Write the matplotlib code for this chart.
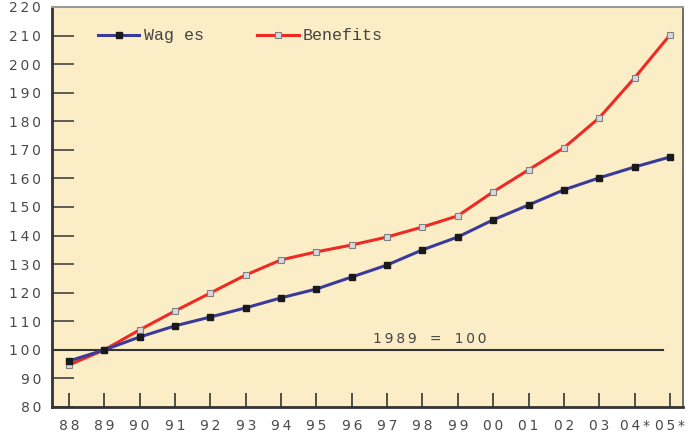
import matplotlib
matplotlib.use("Agg")
import matplotlib.pyplot as plt

years = ["88", "89", "90", "91", "92", "93", "94", "95", "96", "97", "98",
         "99", "00", "01", "02", "03", "04*", "05*"]
wages = [96.1, 100, 104.5, 108.4, 111.5, 114.7, 118.2, 121.3, 125.5, 129.7,
         135.0, 139.5, 145.5, 150.7, 156.0, 160.2, 164.0, 167.5]
benefits = [94.7, 100, 107.0, 113.6, 119.9, 126.2, 131.5, 134.3, 136.7, 139.5,
            143.0, 146.9, 155.3, 163.0, 170.7, 181.2, 195.2, 210.2]
yticks = list(range(80, 221, 10))

TS = "\u2009"


def spaced(s):
    return TS.join(s)


fig = plt.figure(figsize=(7, 4.34), dpi=100)
ax = fig.add_axes([52/700, 1-407/434, (683-52)/700, 400/434])
ax.set_facecolor("#FBEDC6")
x = list(range(len(years)))

ax.plot(x, wages, color="#3A3A9A", lw=2.2, marker="s", ms=5,
        mfc="#1a1a1a", mec="#1a1a1a", label="Wag es", zorder=4)
ax.plot(x, benefits, color="#EE2A24", lw=2.2, marker="s", ms=4.5,
        mfc="#D8D8E0", mec="#808080", mew=0.8, label="Benefits", zorder=3)

ax.plot([-0.48, 16.8], [100, 100], color="#333333", lw=1.5, zorder=2)
ax.text(8.6, 102.3, spaced("1989") + "   =   " + spaced("100"), fontsize=10,
        color="#444444", family="DejaVu Sans")

ax.set_xlim(-0.48, 17.37)
ax.set_ylim(80, 220)
ax.set_xticks(x)
ax.set_xticklabels([spaced(y) for y in years])
ax.set_yticks(yticks)
ax.set_yticklabels([spaced(str(v)) for v in yticks])
ax.tick_params(axis="y", direction="in", length=16, width=1.2, color="#444444",
               labelsize=10, labelcolor="#4a4a4a", pad=8)
ax.tick_params(axis="x", direction="in", length=10, width=1.2, color="#333333",
               labelsize=10, labelcolor="#4a4a4a", pad=9)
for lab in ax.get_xticklabels() + ax.get_yticklabels():
    lab.set_family("DejaVu Sans")

ax.spines["left"].set_color("#333333")
ax.spines["left"].set_linewidth(2)
ax.spines["bottom"].set_color("#333333")
ax.spines["bottom"].set_linewidth(2)
ax.spines["top"].set_color("#999999")
ax.spines["top"].set_linewidth(1.5)
ax.spines["right"].set_color("#555555")
ax.spines["right"].set_linewidth(1.2)

leg = ax.legend(loc="upper left", bbox_to_anchor=(0.062, 0.963), ncol=2,
                frameon=False, handlelength=2.5, columnspacing=3.2,
                handletextpad=0.25, borderaxespad=0,
                prop={"family": "Liberation Mono", "size": 12})
for t in leg.get_texts():
    t.set_color("#444444")

fig.savefig("out.png", dpi=100)
